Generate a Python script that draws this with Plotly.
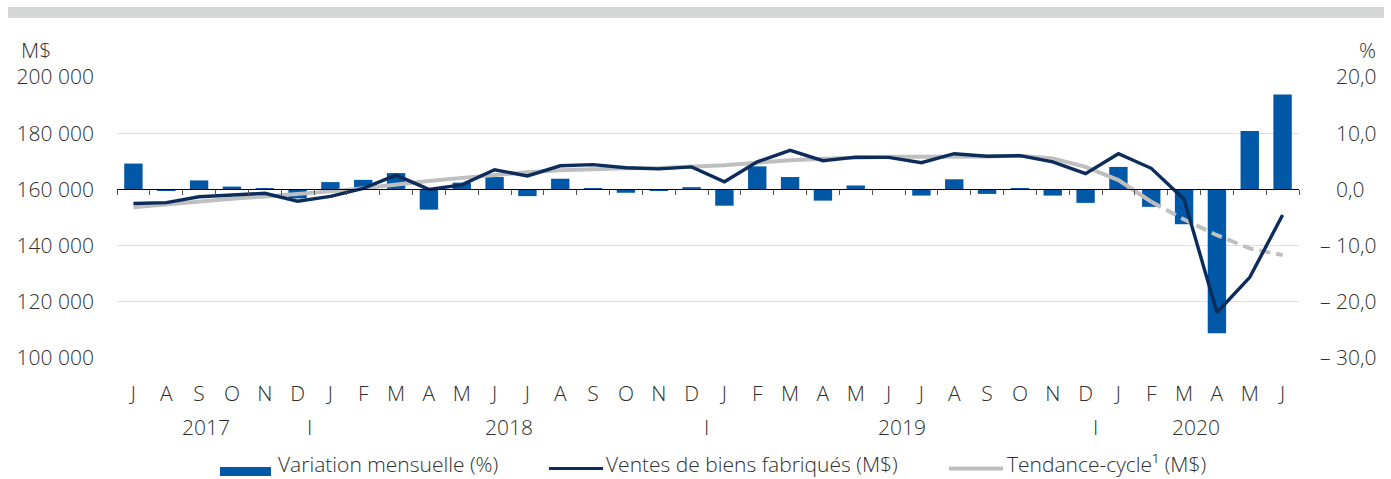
import plotly.graph_objects as go
import pandas as pd

# ---------------- data ----------------
months = [d.strftime("%Y-%m") for d in pd.date_range("2017-07-01", periods=36, freq="MS")]
month_labels = ["J", "A", "S", "O", "N", "D",
                "J", "F", "M", "A", "M", "J", "J", "A", "S", "O", "N", "D",
                "J", "F", "M", "A", "M", "J", "J", "A", "S", "O", "N", "D",
                "J", "F", "M", "A", "M", "J"]

variation = [4.6, -0.2, 1.6, 0.5, 0.2, -1.6,
             1.3, 1.7, 2.9, -3.6, 1.2, 2.2, -1.2, 1.9, 0.1, -0.6, -0.2, 0.4,
             -2.9, 4.1, 2.2, -2.0, 0.7, -0.1, -1.1, 1.8, -0.8, 0.2, -1.1, -2.4,
             4.0, -3.1, -6.2, -25.6, 10.4, 16.9]

ventes = [155000, 155300, 157400, 158000, 158600, 155800,
          157500, 160400, 165100, 160000, 161600, 167000, 164800, 168400, 168800, 167700, 167300, 168000,
          162700, 169800, 173900, 170200, 171500, 171400, 169500, 172700, 171800, 172000, 169800, 165600,
          172700, 167500, 156500, 116200, 128700, 150900]

tendance = [153600, 154700, 155800, 156700, 157500, 158300,
            159300, 160400, 161800, 163000, 164100, 165200, 166100, 166800, 167200, 167500, 167600, 168000,
            168600, 169500, 170400, 170900, 171300, 171600, 171600, 171600, 171700, 172000, 171000, 168000,
            163300, 155600, 149300, 143700, 139000, 136600]
last_solid = 31  # trend-cycle dashed after Feb 2020

left_ticks = [100000, 120000, 140000, 160000, 180000, 200000]
left_ticktext = ["100 000", "120 000", "140 000", "160 000", "180 000", "200 000"]
right_ticks = [-30, -20, -10, 0, 10, 20]
right_ticktext = ["– 30,0", "– 20,0", "– 10,0", "0,0", "10,0", "20,0"]

years = ["2017", "2018", "2019", "2020"]
year_pos = [2.2, 11.45, 23.4, 32.35]
sep_pos = [5.35, 17.45, 29.3]

legend_names = ["Variation mensuelle (%)", "Ventes de biens fabriqués (M$)", "Tendance-cycle¹ (M$)"]

# ---------------- style ----------------
BAR = "#0058a6"
NAVY = "#0c2d5b"
GREY = "#bfbfbf"
TXT = "#303030"
FONT = "Open Sans"
FS = 21
W, H = 1391, 479
L, R, T, B = 117, 92, 77, 121
PW, PH = W - L - R, H - T - B


def fx(px):
    return (px - L) / PW


def fy(py):
    return (H - B - py) / PH


# invisible prefix so positive labels align with the digits of negative ones
right_text = [t if t.startswith("–") else '<span style="color:rgba(0,0,0,0)">–\u00a0</span>' + t
              for t in right_ticktext]

tend_solid = [v if i <= last_solid else None for i, v in enumerate(tendance)]
tend_dash = [v if i >= last_solid else None for i, v in enumerate(tendance)]

fig = go.Figure()
fig.add_trace(go.Bar(x=months, y=variation, marker=dict(color=BAR, line=dict(width=0)),
                     xaxis="x", yaxis="y", name=legend_names[0], showlegend=False))
fig.add_trace(go.Scatter(x=months, y=tend_solid, mode="lines", line=dict(color=GREY, width=4),
                         xaxis="x2", yaxis="y2", name=legend_names[2], showlegend=False))
fig.add_trace(go.Scatter(x=months, y=tend_dash, mode="lines",
                         line=dict(color=GREY, width=4, dash="11px,6px"),
                         xaxis="x2", yaxis="y2", showlegend=False))
fig.add_trace(go.Scatter(x=months, y=ventes, mode="lines", line=dict(color=NAVY, width=3.4),
                         xaxis="x2", yaxis="y2", name=legend_names[1], showlegend=False))

tickfont = dict(family=FONT, size=FS, color=TXT, weight=300)

fig.update_layout(
    width=W, height=H,
    margin=dict(l=L, r=R, t=T, b=B, pad=0),
    paper_bgcolor="white", plot_bgcolor="white",
    font=dict(family=FONT, size=FS, color=TXT, weight=300),
    bargap=0.44,
    xaxis=dict(type="category", anchor="free", position=0.6, range=[-0.5, 35.5],
               showline=True, linecolor="black", linewidth=1,
               ticks="outside", ticklen=5, tickwidth=1, tickcolor="#555555",
               tickson="boundaries", showticklabels=False, showgrid=False),
    xaxis2=dict(type="category", overlaying="x", anchor="y2", side="bottom", range=[-0.5, 35.5],
                showline=False, ticks="", showgrid=False,
                tickmode="array", tickvals=months, ticktext=month_labels,
                tickfont=tickfont, ticklabelstandoff=21),
    yaxis=dict(range=[-30, 20], side="right", anchor="x",
               tickmode="array", tickvals=right_ticks, ticktext=right_text,
               showgrid=True, gridcolor="#dedede", gridwidth=1, zeroline=False,
               showline=False, ticks="", tickfont=tickfont, ticklabelstandoff=20),
    yaxis2=dict(range=[100000, 200000], overlaying="y", side="left",
                tickmode="array", tickvals=left_ticks, ticktext=left_ticktext,
                showgrid=False, zeroline=False, showline=False, ticks="",
                tickfont=tickfont, ticklabelstandoff=22),
)

shapes = [
    dict(type="rect", xref="paper", yref="paper", x0=fx(8), x1=fx(1384), y0=fy(18), y1=fy(7),
         fillcolor="#d5d6d6", line=dict(width=0)),
    dict(type="rect", xref="paper", yref="paper", x0=fx(220), x1=fx(271), y0=fy(476), y1=fy(467),
         fillcolor=BAR, line=dict(width=0)),
    dict(type="line", xref="paper", yref="paper", x0=fx(549), x1=fx(603), y0=fy(468.5), y1=fy(468.5),
         line=dict(color=NAVY, width=3)),
    dict(type="line", xref="paper", yref="paper", x0=fx(949), x1=fx(1003), y0=fy(468.5), y1=fy(468.5),
         line=dict(color=GREY, width=4)),
]
fig.update_layout(shapes=shapes)

ann = []
ann.append(dict(text="M$", xref="paper", yref="paper", x=fx(19), y=fy(50), xanchor="left",
                yanchor="middle", showarrow=False, font=tickfont))
ann.append(dict(text="%", xref="paper", yref="paper", x=fx(1357), y=fy(50), xanchor="left",
                yanchor="middle", showarrow=False, font=tickfont))
for yr, p in zip(years, year_pos):
    ann.append(dict(text=yr, xref="x2", yref="paper", x=p, y=fy(427), xanchor="center",
                    yanchor="middle", showarrow=False, font=tickfont))
for p in sep_pos:
    ann.append(dict(text="I", xref="x2", yref="paper", x=p, y=fy(427), xanchor="center",
                    yanchor="middle", showarrow=False, font=tickfont))
for name, px in zip(legend_names, [276, 604, 1005]):
    ann.append(dict(text=name, xref="paper", yref="paper", x=fx(px), y=fy(464), xanchor="left",
                    yanchor="middle", showarrow=False, font=tickfont))
fig.update_layout(annotations=ann)

fig.write_html("out.html", config={"displayModeBar": False},
               post_script="document.body.style.margin='0';document.body.style.overflow='hidden';")
